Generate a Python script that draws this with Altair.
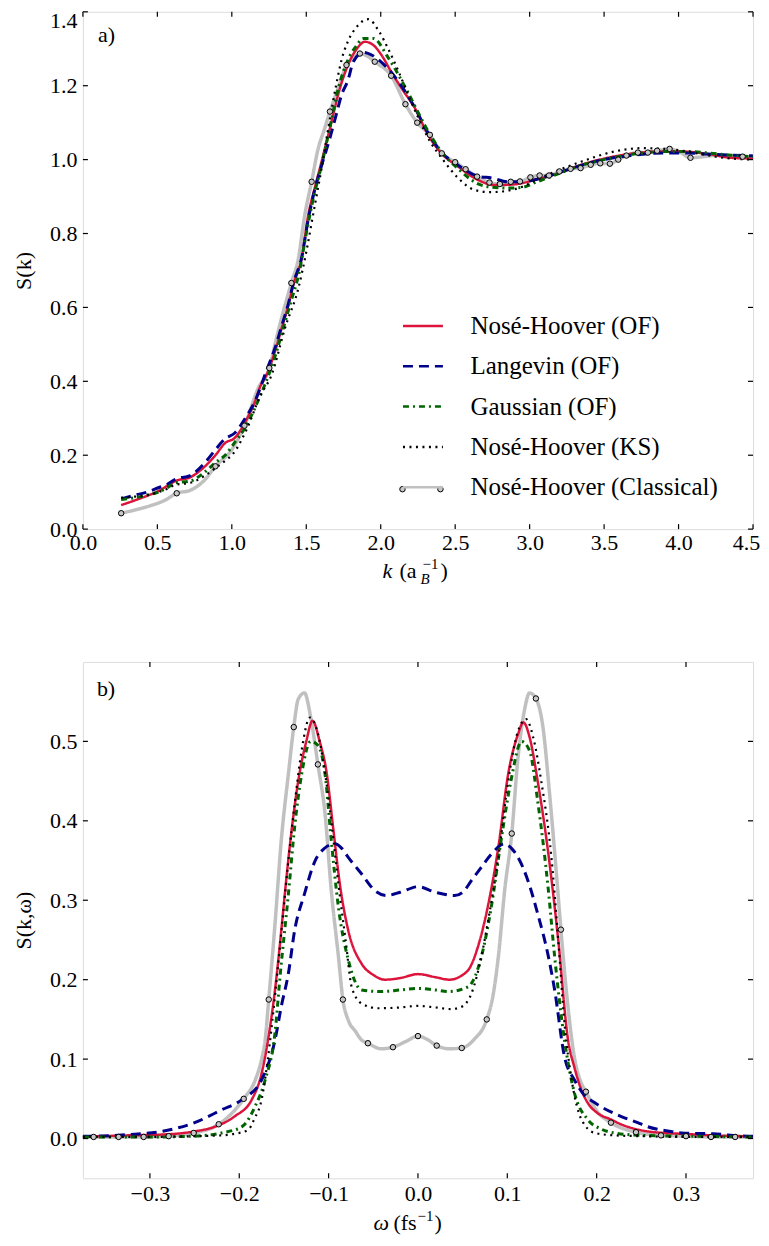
import altair as alt
import pandas as pd

FONT = "Liberation Serif, DejaVu Serif, serif"

SERIES = ["Nosé-Hoover (OF)", "Langevin (OF)", "Gaussian (OF)",
          "Nosé-Hoover (KS)", "Nosé-Hoover (Classical)"]
COLORS = ["#DC143C", "#00008B", "#006400", "#000000", "#C0C0C0"]
DASHES = [[1, 0], [10, 6], [6, 4, 2, 4], [2, 4.5], [1, 0]]
WIDTHS = [2.5, 3, 3, 2.2, 3.5]

# ---------------- panel a : S(k) ----------------
A_XTICKS = [0.0, 0.5, 1.0, 1.5, 2.0, 2.5, 3.0, 3.5, 4.0, 4.5]
A_YTICKS = [0.0, 0.2, 0.4, 0.6, 0.8, 1.0, 1.2, 1.4]

a_nh_k = [0.257, 0.35, 0.43, 0.507, 0.57, 0.62, 0.72, 0.82, 0.89, 0.955, 1.02, 1.09, 1.156, 1.19, 1.234,
          1.29, 1.335, 1.38, 1.413, 1.469, 1.514, 1.558, 1.6, 1.659, 1.726, 1.78, 1.84, 1.893, 1.95, 2.005,
          2.07, 2.14, 2.23, 2.318, 2.408, 2.52, 2.653, 2.765, 2.9, 3.033, 3.19, 3.347, 3.526, 3.704, 3.883,
          4.02, 4.2, 4.35, 4.5]
a_nh_s = [0.065, 0.078, 0.09, 0.103, 0.118, 0.13, 0.14, 0.17, 0.2, 0.233, 0.247, 0.29, 0.346, 0.385, 0.418,
          0.481, 0.544, 0.607, 0.661, 0.733, 0.851, 0.925, 0.99, 1.085, 1.193, 1.256, 1.30, 1.319, 1.31, 1.283,
          1.238, 1.193, 1.139, 1.067, 1.017, 0.981, 0.945, 0.931, 0.933, 0.945, 0.963, 0.986, 1.005, 1.017, 1.022,
          1.022, 1.015, 1.005, 1.003]

a_lg_k = [0.257, 0.35, 0.43, 0.507, 0.57, 0.62, 0.72, 0.82, 0.89, 0.955, 1.02, 1.09, 1.16, 1.234, 1.29,
          1.335, 1.38, 1.413, 1.469, 1.514, 1.558, 1.6, 1.66, 1.70, 1.737, 1.78, 1.816, 1.883, 1.93, 2.0,
          2.095, 2.23, 2.318, 2.408, 2.52, 2.65, 2.75, 2.85, 2.95, 3.05, 3.2, 3.35, 3.5, 3.7, 3.9, 4.05, 4.2,
          4.35, 4.5]
a_lg_s = [0.082, 0.092, 0.1, 0.112, 0.122, 0.135, 0.145, 0.18, 0.215, 0.245, 0.26, 0.30, 0.35, 0.43, 0.49,
          0.55, 0.61, 0.665, 0.735, 0.84, 0.92, 0.98, 1.06, 1.12, 1.175, 1.215, 1.265, 1.29, 1.285, 1.265,
          1.224, 1.14, 1.072, 1.02, 0.985, 0.955, 0.95, 0.94, 0.94, 0.947, 0.965, 0.985, 1.0, 1.012, 1.018,
          1.018, 1.015, 1.012, 1.01]

a_ga_k = [0.257, 0.35, 0.43, 0.507, 0.57, 0.62, 0.72, 0.82, 0.89, 0.955, 1.02, 1.09, 1.19, 1.25, 1.3,
          1.35, 1.4, 1.45, 1.5, 1.55, 1.6, 1.66, 1.72, 1.78, 1.84, 1.88, 1.95, 2.05, 2.18, 2.3, 2.4, 2.52,
          2.65, 2.75, 2.85, 2.95, 3.05, 3.2, 3.35, 3.5, 3.7, 3.9, 4.05, 4.2, 4.35, 4.5]
a_ga_s = [0.08, 0.085, 0.092, 0.10, 0.113, 0.125, 0.13, 0.155, 0.18, 0.2, 0.235, 0.275, 0.36, 0.42, 0.48,
          0.55, 0.62, 0.69, 0.8, 0.9, 0.98, 1.09, 1.2, 1.27, 1.31, 1.328, 1.328, 1.276, 1.184, 1.09, 1.025,
          0.975, 0.935, 0.925, 0.923, 0.925, 0.94, 0.963, 0.985, 1.0, 1.015, 1.022, 1.022, 1.018, 1.012, 1.008]

a_ks_k = [0.257, 0.35, 0.43, 0.507, 0.57, 0.62, 0.72, 0.82, 0.89, 0.955, 1.0, 1.1, 1.19, 1.268, 1.357,
          1.447, 1.5, 1.55, 1.6, 1.65, 1.70, 1.737, 1.78, 1.84, 1.916, 1.99, 2.05, 2.12, 2.18, 2.25, 2.33,
          2.41, 2.52, 2.63, 2.74, 2.9, 3.12, 3.35, 3.57, 3.75, 3.97, 4.15, 4.3, 4.5]
a_ks_s = [0.085, 0.088, 0.092, 0.10, 0.11, 0.12, 0.125, 0.145, 0.165, 0.185, 0.2, 0.27, 0.36, 0.418, 0.544,
          0.652, 0.75, 0.86, 0.97, 1.09, 1.2, 1.27, 1.32, 1.36, 1.38, 1.346, 1.3, 1.238, 1.18, 1.115, 1.05,
          1.004, 0.95, 0.918, 0.912, 0.92, 0.959, 0.995, 1.022, 1.031, 1.027, 1.015, 1.005, 1.0]

a_cl_k = [0.257, 0.35, 0.45, 0.55, 0.63, 0.72, 0.82, 0.89, 1.0, 1.085, 1.178, 1.252, 1.30, 1.346, 1.40,
          1.447, 1.49, 1.536, 1.58, 1.62, 1.659, 1.72, 1.77, 1.82, 1.86, 1.91, 1.96, 2.07, 2.166, 2.245,
          2.33, 2.41, 2.50, 2.57, 2.647, 2.73, 2.80, 2.873, 2.935, 3.005, 3.067, 3.13, 3.2, 3.275, 3.342,
          3.41, 3.474, 3.539, 3.595, 3.65, 3.727, 3.794, 3.856, 3.94, 4.01, 4.08, 4.17, 4.27, 4.35, 4.43, 4.5]
a_cl_s = [0.043, 0.052, 0.063, 0.078, 0.097, 0.105, 0.134, 0.17, 0.215, 0.28, 0.382, 0.436, 0.517, 0.589,
          0.666, 0.733, 0.85, 0.94, 1.03, 1.08, 1.13, 1.2, 1.256, 1.275, 1.287, 1.28, 1.265, 1.227, 1.15, 1.10,
          1.067, 1.017, 0.993, 0.974, 0.954, 0.938, 0.934, 0.94, 0.941, 0.952, 0.957, 0.957, 0.968, 0.975,
          0.977, 0.986, 0.99, 0.989, 1.0, 1.011, 1.019, 1.019, 1.024, 1.029, 1.02, 1.005, 1.008, 1.012, 1.01,
          1.008, 1.005]

a_mk_k = [0.257, 0.63, 0.89, 1.085, 1.252, 1.40, 1.536, 1.659, 1.77, 1.86, 1.96, 2.07, 2.166, 2.245, 2.33,
          2.41, 2.50, 2.57, 2.647, 2.73, 2.80, 2.873, 2.935, 3.005, 3.067, 3.13, 3.2, 3.275, 3.342, 3.41,
          3.474, 3.539, 3.595, 3.65, 3.727, 3.794, 3.856, 3.94, 4.08, 4.43]
a_mk_s = [0.043, 0.097, 0.17, 0.28, 0.436, 0.666, 0.94, 1.13, 1.256, 1.287, 1.265, 1.227, 1.15, 1.10, 1.067,
          1.017, 0.993, 0.974, 0.954, 0.938, 0.934, 0.94, 0.941, 0.952, 0.957, 0.957, 0.968, 0.975, 0.977,
          0.986, 0.99, 0.989, 1.0, 1.011, 1.019, 1.019, 1.024, 1.029, 1.005, 1.008]

# ---------------- panel b : S(k, omega) ----------------
B_XTICKS = [-0.3, -0.2, -0.1, 0.0, 0.1, 0.2, 0.3]
B_YTICKS = [0.0, 0.1, 0.2, 0.3, 0.4, 0.5]

b_nh_w = [-0.375, -0.361, -0.325, -0.287, -0.25, -0.227, -0.205, -0.186, -0.175, -0.166, -0.16, -0.154,
          -0.149, -0.141, -0.134, -0.125, -0.118, -0.11, -0.102, -0.095, -0.087, -0.078, -0.063, -0.05,
          -0.037, -0.02, 0.0, 0.02, 0.035, 0.05, 0.058, 0.067, 0.078, 0.09, 0.101, 0.112, 0.118, 0.125, 0.134,
          0.146, 0.157, 0.168, 0.175, 0.183, 0.19, 0.201, 0.216, 0.227, 0.24, 0.257, 0.275, 0.295, 0.33, 0.37,
          0.375]
b_nh_s = [0.003, 0.003, 0.004, 0.005, 0.009, 0.015, 0.028, 0.049, 0.082, 0.137, 0.187, 0.25, 0.308, 0.392,
          0.45, 0.50, 0.526, 0.50, 0.459, 0.392, 0.317, 0.262, 0.22, 0.206, 0.2, 0.202, 0.207, 0.203, 0.2,
          0.206, 0.215, 0.241, 0.291, 0.367, 0.459, 0.509, 0.524, 0.505, 0.45, 0.358, 0.25, 0.124, 0.09, 0.061,
          0.045, 0.032, 0.024, 0.018, 0.013, 0.009, 0.007, 0.006, 0.004, 0.003, 0.003]

b_lg_w = [-0.375, -0.367, -0.324, -0.287, -0.25, -0.22, -0.197, -0.175, -0.16, -0.153, -0.145, -0.138,
          -0.127, -0.115, -0.105, -0.093, -0.085, -0.078, -0.063, -0.048, -0.035, -0.02, 0.0, 0.02, 0.041,
          0.05, 0.06, 0.07, 0.082, 0.097, 0.105, 0.112, 0.123, 0.134, 0.146, 0.153, 0.164, 0.175, 0.186,
          0.198, 0.205, 0.227, 0.246, 0.257, 0.283, 0.295, 0.33, 0.37, 0.375]
b_lg_s = [0.003, 0.003, 0.005, 0.009, 0.02, 0.036, 0.049, 0.074, 0.124, 0.166, 0.208, 0.262, 0.308, 0.35,
          0.365, 0.371, 0.365, 0.354, 0.333, 0.312, 0.306, 0.31, 0.317, 0.31, 0.306, 0.31, 0.325, 0.34, 0.358,
          0.371, 0.365, 0.354, 0.325, 0.283, 0.229, 0.187, 0.103, 0.074, 0.055, 0.045, 0.04, 0.028, 0.02,
          0.015, 0.009, 0.007, 0.006, 0.003, 0.003]

b_ga_w = [-0.375, -0.3, -0.25, -0.22, -0.197, -0.182, -0.171, -0.16, -0.154, -0.145, -0.138, -0.13, -0.12,
          -0.112, -0.104, -0.097, -0.089, -0.078, -0.063, -0.041, -0.02, 0.0, 0.02, 0.034, 0.056, 0.071,
          0.082, 0.093, 0.104, 0.116, 0.125, 0.134, 0.146, 0.153, 0.164, 0.175, 0.19, 0.205, 0.22, 0.25,
          0.3, 0.375]
b_ga_s = [0.002, 0.002, 0.003, 0.007, 0.015, 0.041, 0.074, 0.133, 0.208, 0.308, 0.392, 0.46, 0.50, 0.495,
          0.459, 0.375, 0.291, 0.225, 0.187, 0.185, 0.187, 0.189, 0.187, 0.185, 0.191, 0.229, 0.291, 0.375,
          0.45, 0.50, 0.488, 0.425, 0.312, 0.229, 0.124, 0.058, 0.024, 0.012, 0.007, 0.004, 0.003, 0.002]

b_ks_w = [-0.375, -0.3, -0.25, -0.22, -0.205, -0.19, -0.183, -0.175, -0.168, -0.16, -0.152, -0.145, -0.138,
          -0.13, -0.121, -0.112, -0.104, -0.096, -0.089, -0.081, -0.074, -0.063, -0.044, -0.02, 0.0, 0.02,
          0.037, 0.049, 0.06, 0.071, 0.078, 0.09, 0.101, 0.112, 0.121, 0.129, 0.138, 0.149, 0.157, 0.164,
          0.172, 0.183, 0.198, 0.22, 0.25, 0.3, 0.375]
b_ks_s = [0.002, 0.002, 0.003, 0.004, 0.006, 0.011, 0.025, 0.049, 0.1, 0.18, 0.27, 0.35, 0.421, 0.49, 0.53,
          0.51, 0.46, 0.39, 0.32, 0.25, 0.19, 0.17, 0.164, 0.165, 0.167, 0.165, 0.163, 0.166, 0.183, 0.229,
          0.271, 0.354, 0.45, 0.513, 0.528, 0.505, 0.45, 0.358, 0.25, 0.145, 0.074, 0.024, 0.007, 0.004,
          0.003, 0.002, 0.002]

b_cl_w = [-0.375, -0.363, -0.335, -0.307, -0.279, -0.251, -0.223, -0.195, -0.182, -0.175, -0.171, -0.167,
          -0.16, -0.153, -0.145, -0.139, -0.134, -0.127, -0.12, -0.112, -0.104, -0.097, -0.089, -0.084,
          -0.078, -0.07, -0.063, -0.056, -0.041, -0.028, -0.014, 0.0, 0.01, 0.021, 0.035, 0.049, 0.063, 0.077,
          0.084, 0.09, 0.097, 0.105, 0.112, 0.119, 0.125, 0.132, 0.14, 0.147, 0.155, 0.16, 0.166, 0.175,
          0.181, 0.188, 0.2, 0.216, 0.244, 0.272, 0.30, 0.328, 0.355, 0.375]
b_cl_s = [0.002, 0.002, 0.002, 0.002, 0.003, 0.007, 0.018, 0.05, 0.074, 0.1, 0.124, 0.175, 0.27, 0.375,
          0.459, 0.518, 0.553, 0.561, 0.53, 0.471, 0.409, 0.312, 0.229, 0.175, 0.149, 0.135, 0.124, 0.12,
          0.113, 0.115, 0.122, 0.129, 0.125, 0.117, 0.113, 0.114, 0.125, 0.15, 0.18, 0.229, 0.312, 0.384,
          0.48, 0.538, 0.561, 0.554, 0.517, 0.438, 0.333, 0.263, 0.187, 0.103, 0.075, 0.059, 0.035, 0.02,
          0.008, 0.004, 0.003, 0.002, 0.002, 0.002]

b_mk_w = [-0.363, -0.335, -0.307, -0.279, -0.251, -0.223, -0.195, -0.167, -0.139, -0.112, -0.084, -0.056,
          -0.028, 0.0, 0.021, 0.049, 0.077, 0.105, 0.132, 0.16, 0.188, 0.216, 0.244, 0.272, 0.30, 0.328, 0.355]
b_mk_s = [0.002, 0.002, 0.002, 0.003, 0.007, 0.018, 0.05, 0.175, 0.518, 0.471, 0.175, 0.12, 0.115, 0.129,
          0.117, 0.114, 0.15, 0.384, 0.554, 0.263, 0.059, 0.02, 0.008, 0.004, 0.003, 0.002, 0.002]

# ---------------- layout constants ----------------
W = 671
HA = 518
HB = 517
TICK = 5
LEG_X = 319
LEG_Y = 293
LEG_SYM = 40
LEG_ROW5 = 478   # centre of the last legend row (for the marker glyph ends)

color_scale = alt.Scale(domain=SERIES, range=COLORS)
dash_scale = alt.Scale(domain=SERIES, range=DASHES)
legend = alt.Legend(title=None, orient="none", legendX=LEG_X, legendY=LEG_Y,
                    symbolType="stroke", symbolSize=LEG_SYM * LEG_SYM, symbolStrokeWidth=2.5,
                    labelFont=FONT, labelFontSize=25, labelColor="black", labelLimit=500,
                    labelOffset=26, rowPadding=5.4, padding=0)


def axis_x(vals, last_shift, pad):
    return alt.Axis(values=vals, format=".1f", ticks=False, domain=False, grid=False,
                    labelFont=FONT, labelFontSize=22, labelColor="black", labelPadding=pad,
                    labelFlush=False, labelOverlap=False, title=None,
                    labelOffset={"condition": {"test": f"datum.value >= {vals[-1]} - 1e-9",
                                               "value": last_shift}, "value": 0})


def axis_y(vals, title, h, top_shift):
    return alt.Axis(values=vals, format=".1f", ticks=False, domain=False, grid=False,
                    labelFont=FONT, labelFontSize=22, labelColor="black", labelPadding=6,
                    labelOverlap=False, title=title, titleFont=FONT, titleFontSize=22,
                    titleFontWeight="normal", titleColor="black", titleX=-47, titleY=h / 2,
                    labelOffset={"condition": {"test": f"datum.value >= {vals[-1]} - 1e-9",
                                               "value": top_shift}, "value": 0})


def text_mark(txt, x, y, size=22, italic=False):
    return alt.Chart(pd.DataFrame({"t": [txt]})).mark_text(
        font=FONT, fontSize=size, fontStyle="italic" if italic else "normal",
        align="left", baseline="alphabetic", color="black"
    ).encode(text="t:N", x=alt.value(x), y=alt.value(y))


def marker(df_, xenc, yenc):
    return alt.Chart(df_).mark_point(
        shape="circle", filled=True, size=30, color="#C8C8C8", stroke="black",
        strokeWidth=1, opacity=1).encode(x=xenc, y=yenc)


def build_panel(xdom, ydom, xt, yt, ytitle, h, series, marks, use_legend, texts,
                last_shift, top_shift, pad):
    xenc = alt.X("x:Q", scale=alt.Scale(domain=xdom, nice=False, zero=False),
                 axis=axis_x(xt, last_shift, pad))
    yenc = alt.Y("y:Q", scale=alt.Scale(domain=ydom, nice=False, zero=False),
                 axis=axis_y(yt, ytitle, h, top_shift))
    layers = []
    order = [4, 0, 1, 2, 3]
    for i in order:
        xs, ys = series[i]
        d = pd.DataFrame({"x": xs, "y": ys, "series": SERIES[i]})
        m = alt.Chart(d).mark_line(interpolate="monotone", strokeWidth=WIDTHS[i], strokeCap="butt")
        if use_legend:
            enc = dict(color=alt.Color("series:N", scale=color_scale, legend=legend),
                       strokeDash=alt.StrokeDash("series:N", scale=dash_scale, legend=legend))
        else:
            enc = dict(color=alt.value(COLORS[i]), strokeDash=alt.value(DASHES[i]))
        layers.append(m.encode(x=xenc, y=yenc, **enc))
    mx, my = marks
    layers.append(marker(pd.DataFrame({"x": mx, "y": my}), xenc, yenc))
    if use_legend:
        # open-circle ends of the classical entry's legend glyph
        for px in (LEG_X + 1, LEG_X + LEG_SYM - 1):
            layers.append(marker(pd.DataFrame({"t": [0]}), alt.value(px), alt.value(LEG_ROW5)))
    dx = pd.DataFrame({"x": xt})
    dy = pd.DataFrame({"y": yt})
    rule = dict(color="black", strokeWidth=1.2)
    layers.append(alt.Chart(dx).mark_rule(**rule).encode(x=xenc, y=alt.value(h), y2=alt.value(h - TICK)))
    layers.append(alt.Chart(dx).mark_rule(**rule).encode(x=xenc, y=alt.value(0), y2=alt.value(TICK)))
    layers.append(alt.Chart(dy).mark_rule(**rule).encode(y=yenc, x=alt.value(0), x2=alt.value(TICK)))
    layers.append(alt.Chart(dy).mark_rule(**rule).encode(y=yenc, x=alt.value(W), x2=alt.value(W - TICK)))
    for t in texts:
        layers.append(text_mark(*t))
    return alt.layer(*layers).properties(width=W, height=h)


panel_a = build_panel(
    [0, 4.5], [0, 1.4], A_XTICKS, A_YTICKS, "S(k)", HA,
    [(a_nh_k, a_nh_s), (a_lg_k, a_lg_s), (a_ga_k, a_ga_s), (a_ks_k, a_ks_s), (a_cl_k, a_cl_s)],
    (a_mk_k, a_mk_s), True,
    [("a)", 15, 30, 22, False),
     ("k", 300, 567, 22, True),
     ("(a", 317, 567, 22, False),
     ("B", 338, 573, 15, True),
     ("−1", 340, 558, 15, False),
     (")", 358, 567, 22, False)],
    -7, 9, 3)

panel_b = build_panel(
    [-0.375, 0.375], [-0.05, 0.6], B_XTICKS, B_YTICKS, "S(k,ω)", HB,
    [(b_nh_w, b_nh_s), (b_lg_w, b_lg_s), (b_ga_w, b_ga_s), (b_ks_w, b_ks_s), (b_cl_w, b_cl_s)],
    (b_mk_w, b_mk_s), False,
    [("b)", 14, 34, 22, False),
     ("ω", 291, 569, 22, True),
     ("(fs", 311, 569, 22, False),
     ("−1", 335, 560, 15, False),
     (")", 352, 569, 22, False)],
    0, 0, 5)

chart = alt.vconcat(panel_a, panel_b, spacing=133, bounds="flush").properties(
    padding={"left": 4, "top": 0, "right": 0, "bottom": 0}
).configure_view(stroke="black", strokeWidth=1.5).configure(font=FONT)

chart.save("out.html", embed_options={"renderer": "svg", "actions": False})
